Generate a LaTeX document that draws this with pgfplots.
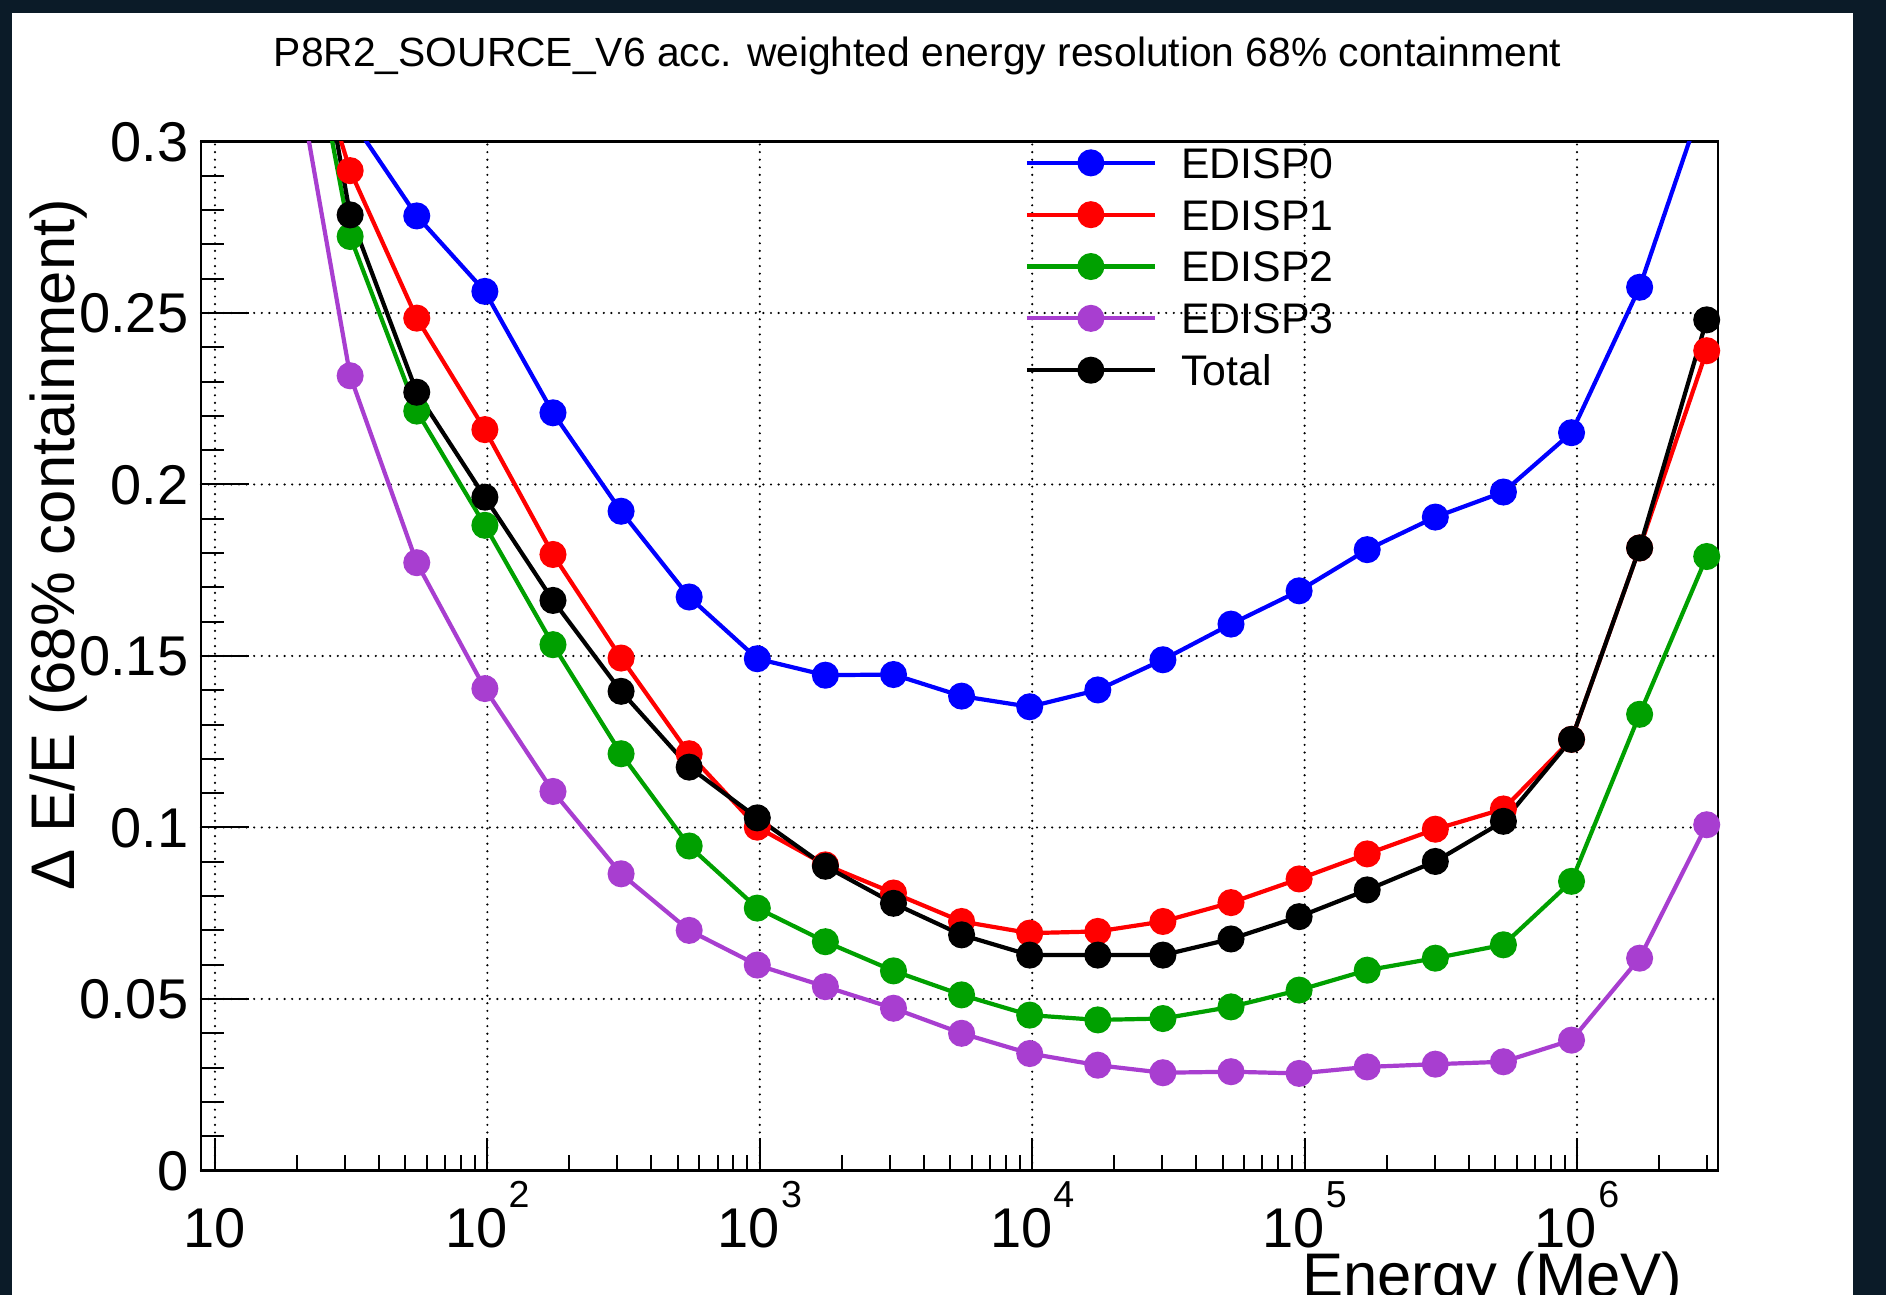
\documentclass[border=0pt]{standalone}
\usepackage{fontspec}
\setmainfont{Liberation Sans}
\usepackage{pgfplots}
\pgfplotsset{compat=1.18}
\definecolor{bgdark}{HTML}{0B1B28}
\definecolor{rblue}{RGB}{0,0,255}
\definecolor{rred}{RGB}{255,0,0}
\definecolor{rgreen}{RGB}{0,160,0}
\definecolor{rviolet}{RGB}{168,62,208}
\newcommand\ex[1]{\kern0.3pt\raisebox{10pt}{\fontsize{9.4}{10}\selectfont #1}}
\pgfplotsset{
  rootline/.style={color=#1, line width=1.05pt, mark=*, mark size=2.85pt, mark options={solid, fill=#1, draw=#1}},
}
\begin{document}
\begin{tikzpicture}[x=1pt,y=1pt]
\fill[bgdark] (0,0) rectangle (471.5,323.75);
\fill[white] (3,0) rectangle (463.25,320.5);
\node[anchor=base, inner sep=0pt, font=\fontsize{10.2}{12}\selectfont] at (229.4,307) {P8R2\_SOURCE\_V6 acc. weighted energy resolution 68\% containment};
\begin{axis}[
  at={(50.25pt,31.125pt)}, anchor=south west, scale only axis,
  width=379.25pt, height=257.25pt,
  xmode=log, xmin=8.886, xmax=3.293e6, ymin=0, ymax=0.3,
  axis line style={black, line width=0.6pt},
  tick align=inside, xtick pos=bottom, ytick pos=left,
  major tick length=8pt, minor tick length=3.75pt,
  tick style={black, line width=0.5pt},
  xtick={10,100,1000,10000,100000,1000000},
  xticklabels={10,10\ex{2},10\ex{3},10\ex{4},10\ex{5},10\ex{6}},
  minor xtick={20,30,40,50,60,70,80,90,200,300,400,500,600,700,800,900,2000,3000,4000,5000,6000,7000,8000,9000,20000,30000,40000,50000,60000,70000,80000,90000,200000,300000,400000,500000,600000,700000,800000,900000,2000000,3000000},
  ytick={0,0.05,0.1,0.15,0.2,0.25,0.3},
  yticklabels={0,0.05,0.1,0.15,0.2,0.25,0.3},
  minor ytick={0.01,0.02,0.03,0.04,0.06,0.07,0.08,0.09,0.11,0.12,0.13,0.14,0.16,0.17,0.18,0.19,0.21,0.22,0.23,0.24,0.26,0.27,0.28,0.29},
  xmajorgrids, ymajorgrids,
  major grid style={black, line width=0.6pt, line cap=round, dash pattern=on 0pt off 1.9pt},
  xticklabel style={font=\fontsize{14}{16}\selectfont, anchor=north, inner sep=0pt, text height=16.7pt, text depth=0pt, yshift=-2.4pt},
  yticklabel style={font=\fontsize{14}{16}\selectfont, anchor=east, inner sep=0pt, text height=10pt, text depth=0pt, xshift=-3pt},
  ylabel={Δ E/E (68\% containment)},
  ylabel style={font=\fontsize{15.4}{18}\selectfont, inner sep=0pt, at={(axis description cs:-0.0936,0.945)}, anchor=east},
  xlabel={Energy (MeV)},
  xlabel style={font=\fontsize{15.4}{18}\selectfont, inner sep=0pt, at={(axis description cs:0.977,-0.122)}, anchor=base east},
  legend style={at={(axis description cs:0.5425,0.995)}, anchor=north west, draw=none, fill=none, inner sep=0pt,
    font=\fontsize{10.7}{12}\selectfont, row sep=5.26pt, column sep=6.1pt, cells={anchor=west},
    nodes={inner sep=0pt, text height=7.7pt, text depth=0pt}},
  legend image code/.code={\draw[mark repeat=2,mark phase=2,#1] plot coordinates {(0pt,0pt) (16pt,0pt) (32pt,0pt)};},
]
\addplot[rootline=rblue] coordinates {(31.35,0.307) (55.05,0.2783) (97.91,0.2563) (174.1,0.2209) (309.6,0.1922) (550.5,0.1672) (979.1,0.1492) (1741,0.1444) (3096,0.1446) (5505,0.1383) (9791,0.1352) (17411,0.1401) (30187,0.1489) (53681,0.1593) (95460,0.1690) (169755,0.1810) (301871,0.1905) (536811,0.1978) (954600,0.2151) (1697546,0.2575) (2993096,0.315)};
\addlegendentry{EDISP0}
\addplot[rootline=rred] coordinates {(17.6,0.356) (31.35,0.2915) (55.05,0.2485) (97.91,0.2160) (174.1,0.1796) (309.6,0.1494) (550.5,0.1215) (979.1,0.1001) (1741,0.0891) (3096,0.0809) (5505,0.0726) (9791,0.0692) (17411,0.0697) (30187,0.0726) (53681,0.0781) (95460,0.0850) (169755,0.0923) (301871,0.0995) (536811,0.1054) (954600,0.1257) (1697546,0.1815) (2993096,0.2390)};
\addlegendentry{EDISP1}
\addplot[rootline=rgreen] coordinates {(17.6,0.378) (31.35,0.2723) (55.05,0.2214) (97.91,0.1881) (174.1,0.1533) (309.6,0.1215) (550.5,0.0946) (979.1,0.0765) (1741,0.0667) (3096,0.0582) (5505,0.0512) (9791,0.0453) (17411,0.0439) (30187,0.0443) (53681,0.0477) (95460,0.0526) (169755,0.0584) (301871,0.0619) (536811,0.0658) (954600,0.0843) (1697546,0.1330) (2993096,0.1790)};
\addlegendentry{EDISP2}
\addplot[rootline=rviolet] coordinates {(17.6,0.345) (31.35,0.2317) (55.05,0.1772) (97.91,0.1405) (174.1,0.1105) (309.6,0.0865) (550.5,0.0700) (979.1,0.0599) (1741,0.0536) (3096,0.0473) (5505,0.0400) (9791,0.0341) (17411,0.0307) (30187,0.0285) (53681,0.0288) (95460,0.0283) (169755,0.0302) (301871,0.0310) (536811,0.0317) (954600,0.0380) (1697546,0.0619) (2993096,0.1008)};
\addlegendentry{EDISP3}
\addplot[rootline=black] coordinates {(17.6,0.39) (31.35,0.2786) (55.05,0.2269) (97.91,0.1963) (174.1,0.1662) (309.6,0.1397) (550.5,0.1176) (979.1,0.1028) (1741,0.0887) (3096,0.0779) (5505,0.0687) (9791,0.0628) (17411,0.0628) (30187,0.0628) (53681,0.0675) (95460,0.0740) (169755,0.0818) (301871,0.0901) (536811,0.1018) (954600,0.1257) (1697546,0.1815) (2993096,0.2480)};
\addlegendentry{Total}
\end{axis}
\begin{axis}[
  at={(50.25pt,31.125pt)}, anchor=south west, scale only axis,
  width=379.25pt, height=257.25pt,
  xmode=log, xmin=8.886, xmax=3.293e6, ymin=0, ymax=0.3,
  axis line style={draw=none},
  xtick=\empty,
  tick align=inside, ytick pos=left,
  major tick length=12pt, minor tick length=5.75pt,
  tick style={black, line width=0.5pt},
  ytick={0,0.05,0.1,0.15,0.2,0.25,0.3},
  yticklabels={},
  minor ytick={0.01,0.02,0.03,0.04,0.06,0.07,0.08,0.09,0.11,0.12,0.13,0.14,0.16,0.17,0.18,0.19,0.21,0.22,0.23,0.24,0.26,0.27,0.28,0.29},
]
\end{axis}
\pgfresetboundingbox
\useasboundingbox (0,0) rectangle (471.5,323.75);
\end{tikzpicture}
\end{document}
